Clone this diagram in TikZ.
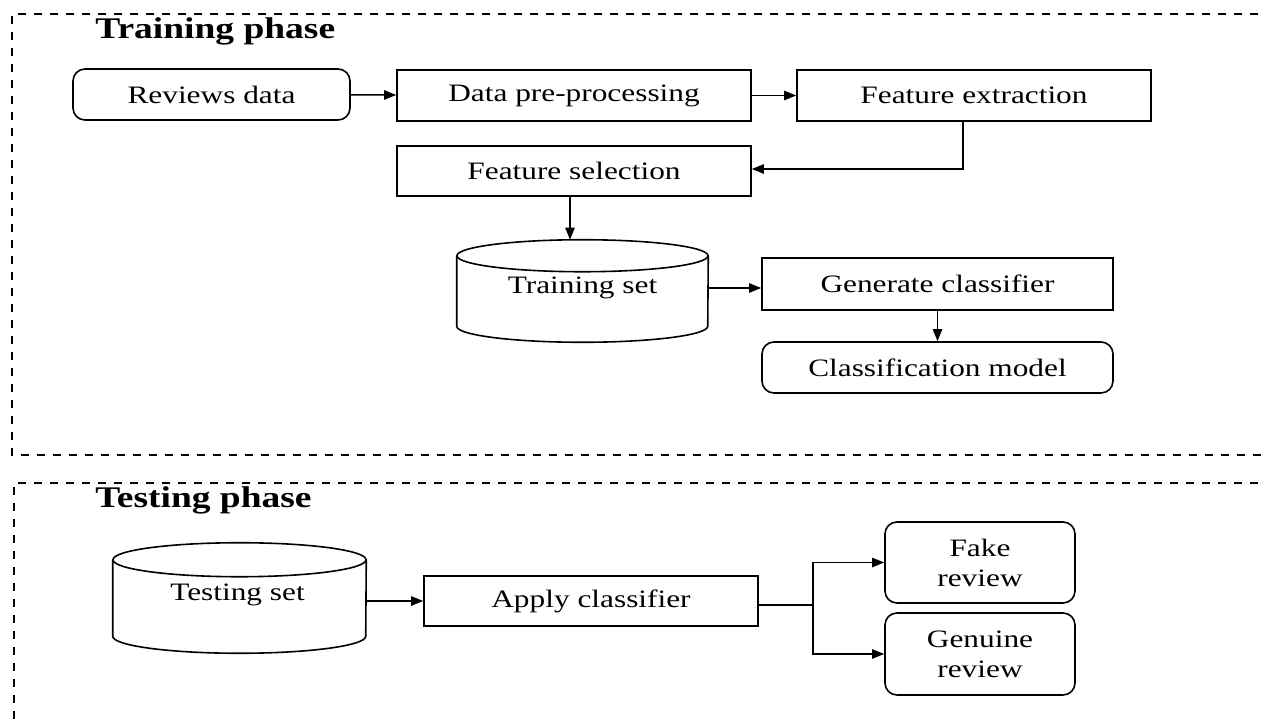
\documentclass[tikz,border=0pt]{standalone}
\usepackage{fontspec}
\setmainfont[FakeStretch=1.25]{Liberation Serif}
\usetikzlibrary{arrows.meta,calc}
% one drawing unit = one pixel of the 1261 x 721 canvas
\def\upx{0.75pt}
\tikzset{
  x=0.75pt, y=-0.75pt,
  boxfont/.style={font=\fontsize{18.8}{22.5}\selectfont},
  stepbox/.style={boxfont, draw, line width=1.2pt, inner sep=0pt, align=center,
    minimum width=354*\upx, minimum height=51*\upx},
  roundbox/.style={stepbox, rounded corners=9pt},
  dbase/.style={inner sep=0pt, draw=none},
  cylline/.style={line width=1.2pt},
  link/.style={line width=1.1pt, -{Triangle[length=9pt,width=7pt]}},
  plainlink/.style={line width=1.1pt},
  frame/.style={line width=1.1pt, dash pattern=on 6pt off 6pt},
  phasetitle/.style={font=\fontsize{22.5}{26}\selectfont\bfseries, anchor=base west, inner sep=0pt}
}
\begin{document}
\begin{tikzpicture}
\useasboundingbox (0,0) rectangle (1261,721);

% dashed phase frames (open to the right)
\draw[frame] (1290,14) -- (12,14) -- (12,455) -- (1290,455);
\draw[frame] (1290,483) -- (14,483) -- (14,740);

\node[phasetitle] (ttitle) at (95,38) {Training phase};
\node[phasetitle] (stitle) at (95,507) {Testing phase};

% ---------------- training phase ----------------
\node[roundbox, minimum width=277*\upx] (rd) at (211.5,94.5) {Reviews data};
\node[stepbox] (dp) at (574,95.5) {Data pre-processing};
\node[stepbox] (fe) at (974,95.5) {Feature extraction};
\node[stepbox, minimum height=50*\upx] (fs) at (574,171) {Feature selection};

% training set database
\node[dbase, minimum width=251*\upx, minimum height=102*\upx] (trs) at (582.5,291) {};
\draw[cylline] ($(trs.north)+(0,16)$) ellipse [x radius=125.5, y radius=16];
\draw[cylline] ($(trs.north west)+(0,16)$) -- ($(trs.south west)+(0,-16)$)
  arc [start angle=180, end angle=0, x radius=125.5, y radius=16]
  -- ($(trs.north east)+(0,16)$);
\node[boxfont, inner sep=0pt] (trstext) at ($(trs.north)+(0,48)$) {Training set};

\node[stepbox, minimum width=351*\upx, minimum height=52*\upx] (gc) at (937.5,284) {Generate classifier};
\node[roundbox, minimum width=351*\upx] (cm) at (937.5,367.5) {Classification model};

\draw[link] (rd) -- (dp);
\draw[link] (dp) -- (fe);
\draw[link] ($(fe.south)+(-11,0)$) |- ($(fs.east)+(0,-2)$);
\draw[link] ($(fs.south)+(-4,0)$) -- ($(trs.north)+(-12.5,0)$);
\draw[link] ($(trs.east)+(0,-3)$) -- ($(gc.west)+(0,4)$);
\draw[link] (gc) -- (cm);

% ---------------- testing phase ----------------
\node[dbase, minimum width=253*\upx, minimum height=110*\upx] (tst) at (239.5,598) {};
\draw[cylline] ($(tst.north)+(0,17)$) ellipse [x radius=126.5, y radius=17];
\draw[cylline] ($(tst.north west)+(0,17)$) -- ($(tst.south west)+(0,-17)$)
  arc [start angle=180, end angle=0, x radius=126.5, y radius=17]
  -- ($(tst.north east)+(0,17)$);
\node[boxfont, inner sep=0pt] (tsttext) at ($(tst.north)+(-2,52)$) {Testing set};

\node[stepbox, minimum width=334*\upx, minimum height=50*\upx] (ac) at (591,601) {Apply classifier};
\node[roundbox, minimum width=190*\upx, minimum height=81*\upx] (fr) at (980,562.5) {Fake\\review};
\node[roundbox, minimum width=190*\upx, minimum height=82*\upx] (gr) at (980,654) {Genuine\\review};

\coordinate (split) at ($(ac.east)+(54,4)$);
\draw[link] (tst.east |- ac.west) -- (ac.west);
\draw[plainlink] ($(ac.east)+(0,4)$) -- (split);
\draw[link] (split) |- (fr.west);
\draw[link] (split) |- (gr.west);
\end{tikzpicture}
\end{document}
